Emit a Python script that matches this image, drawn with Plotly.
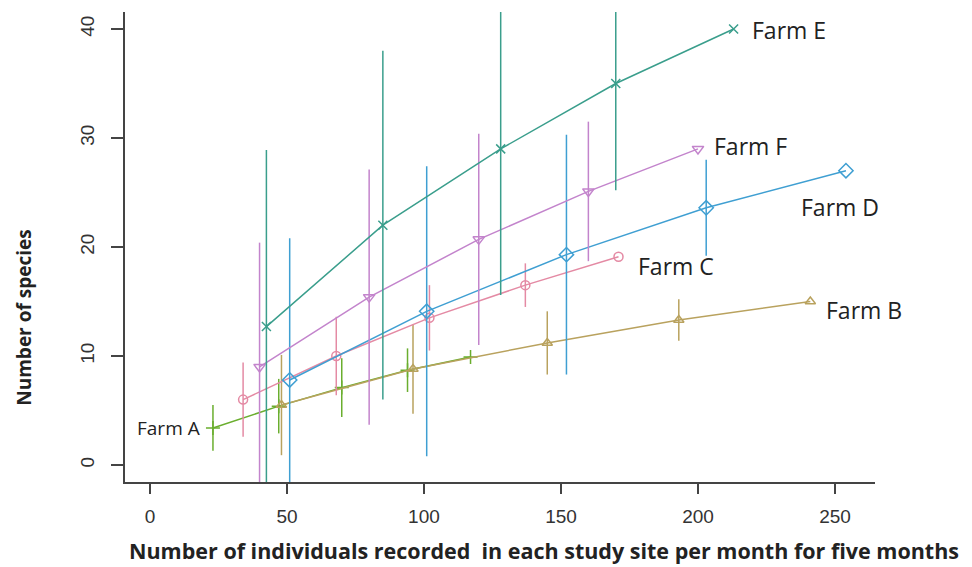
import plotly.graph_objects as go

# Data
farm_a_x = [23, 47, 70, 94, 117]
farm_a_y = [3.4, 5.4, 7.1, 8.7, 9.9]
farm_a_err = [2.1, 2.5, 2.7, 2.0, 0]

farm_b_x = [48, 96, 145, 193, 241]
farm_b_y = [5.5, 8.8, 11.2, 13.3, 15.0]
farm_b_err = [4.6, 4.1, 2.9, 1.9, 0]

farm_c_x = [34, 68, 102, 137, 171]
farm_c_y = [6.0, 10.0, 13.5, 16.5, 19.1]
farm_c_err = [3.4, 3.6, 3.0, 2.0, 0]

farm_d_x = [51, 101, 152, 203, 254]
farm_d_y = [7.8, 14.1, 19.3, 23.6, 27.0]
farm_d_err = [13.0, 13.3, 11.0, 4.4, 0]

farm_e_x = [42.5, 85, 128, 170, 213]
farm_e_y = [12.7, 22.0, 29.0, 35.0, 40.0]
farm_e_err = [16.2, 16.0, 13.4, 9.8, 0]

farm_f_x = [40, 80, 120, 160, 200]
farm_f_y = [9.0, 15.4, 20.7, 25.1, 29.0]
farm_f_err = [11.4, 11.7, 9.7, 6.4, 0]

series = [
    ("Farm A", farm_a_x, farm_a_y, farm_a_err, "#6aae2e", "cross-thin-open", 10),
    ("Farm B", farm_b_x, farm_b_y, farm_b_err, "#b9a25e", "triangle-up-open", 9),
    ("Farm C", farm_c_x, farm_c_y, farm_c_err, "#e48aa4", "circle-open", 9),
    ("Farm D", farm_d_x, farm_d_y, farm_d_err, "#3f9fd2", "diamond-open", 11),
    ("Farm F", farm_f_x, farm_f_y, farm_f_err, "#c384cc", "triangle-down-open", 10),
    ("Farm E", farm_e_x, farm_e_y, farm_e_err, "#3a9e8c", "x-thin-open", 9),
]

# label positions (data coords)
label_x = {"Farm A": 19, "Farm B": 246, "Farm C": 177.5, "Farm D": 237, "Farm E": 219, "Farm F": 205}
label_y = {"Farm A": 3.4, "Farm B": 14.2, "Farm C": 18.3, "Farm D": 23.7, "Farm E": 39.9, "Farm F": 29.3}

fig = go.Figure()
for name, xs, ys, errs, color, sym, size in series:
    fig.add_trace(go.Scatter(
        x=xs, y=ys, mode="lines+markers", name=name,
        line=dict(color=color, width=1.5),
        marker=dict(symbol=sym, size=size, color=color, line=dict(color=color, width=1.5)),
        error_y=dict(type="data", array=errs, visible=True, color=color, thickness=1.5, width=0),
    ))

for name, xs, ys, errs, color, sym, size in series:
    is_a = name == "Farm A"
    fig.add_annotation(
        x=label_x[name], y=label_y[name], text=name, showarrow=False,
        xanchor="right" if is_a else "left", yanchor="middle",
        font=dict(family="Open Sans, sans-serif", size=19 if is_a else 23, color="#222222"),
    )

fig.add_annotation(
    xref="paper", yref="paper", x=-0.135, y=0.349, text="<b>Number of species</b>",
    textangle=-90, showarrow=False, xanchor="center", yanchor="middle",
    font=dict(family="Open Sans, sans-serif", size=19, color="#222222"),
)
fig.add_annotation(
    xref="paper", yref="paper", x=0.558, y=-0.145,
    text="<b>Number of individuals recorded  in each study site per month for five months</b>",
    showarrow=False, xanchor="center", yanchor="middle",
    font=dict(family="Open Sans, sans-serif", size=21.5, color="#222222"),
)

# page body has an 8px margin, so the figure is 8px smaller than the window
fig.update_layout(
    width=964, height=559,
    margin=dict(l=117, r=97, t=4, b=85),
    paper_bgcolor="white", plot_bgcolor="white",
    showlegend=False,
    xaxis=dict(
        range=[-9.1, 264.6], tickvals=[0, 50, 100, 150, 200, 250], automargin=False,
        showgrid=False, zeroline=False, showline=True, linecolor="#444444", linewidth=1.5,
        ticks="outside", ticklen=10, tickwidth=1.5, tickcolor="#444444", ticklabelstandoff=6,
        tickfont=dict(family="Liberation Sans, Arial, sans-serif", size=19, color="#333333"),
    ),
    yaxis=dict(
        range=[-1.56, 41.56], tickvals=[0, 10, 20, 30, 40], automargin=False,
        showgrid=False, zeroline=False, showline=True, linecolor="#444444", linewidth=1.5,
        ticks="outside", ticklen=12, tickwidth=1.5, tickcolor="#444444", tickangle=-90,
        ticklabelstandoff=10,
        tickfont=dict(family="Liberation Sans, Arial, sans-serif", size=19, color="#333333"),
    ),
)

fig.write_html("out.html")
